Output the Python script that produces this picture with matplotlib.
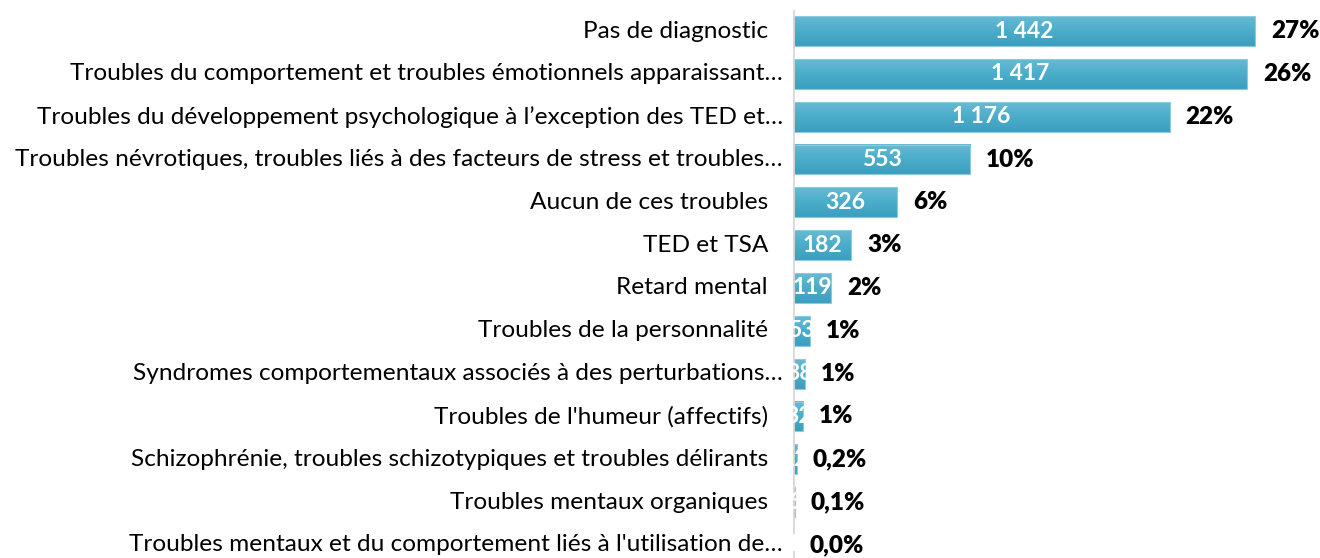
import numpy as np
import matplotlib.pyplot as plt
from matplotlib.colors import LinearSegmentedColormap

categories = [
    "Pas de diagnostic",
    "Troubles du comportement et troubles émotionnels apparaissant…",
    "Troubles du développement psychologique à l’exception des TED et…",
    "Troubles névrotiques, troubles liés à des facteurs de stress et troubles…",
    "Aucun de ces troubles",
    "TED et TSA",
    "Retard mental",
    "Troubles de la personnalité",
    "Syndromes comportementaux associés à des perturbations…",
    "Troubles de l'humeur (affectifs)",
    "Schizophrénie, troubles schizotypiques et troubles délirants",
    "Troubles mentaux organiques",
    "Troubles mentaux et du comportement liés à l'utilisation de…",
]
counts = [1442, 1417, 1176, 553, 326, 182, 119, 53, 38, 32, 12, 6, 1]
count_labels = ["1 442", "1 417", "1 176", "553", "326", "182", "119", "53", "38", "32", "12", "6", "1"]
pct_labels = ["27%", "26%", "22%", "10%", "6%", "3%", "2%", "1%", "1%", "1%", "0,2%", "0,1%", "0,0%"]

plt.rcParams['font.family'] = ['Lato', 'DejaVu Sans']

fig = plt.figure(figsize=(13.2, 5.58), dpi=100)
ax = fig.add_axes([793 / 1320, -8.4 / 558, 527 / 1320, 556.8 / 558])

y = np.arange(len(categories))
bars = ax.barh(y, counts, height=0.7, color="none", edgecolor="#8ACBDF", linewidth=0.8, zorder=3)
ax.axis("off")

# vertical gradient inside bars, like the Excel fill
cmap = LinearSegmentedColormap.from_list("aqua", ["#68BAD3", "#4BADCA", "#3B9EC0"])
grad = np.linspace(0, 1, 64).reshape(-1, 1)
for b in bars:
    x0, y0 = b.get_x(), b.get_y()
    ax.imshow(grad, cmap=cmap, aspect="auto", extent=(x0, x0 + b.get_width(), y0 + b.get_height(), y0),
              interpolation="bilinear", zorder=2)
ax.set_xlim(0, 1645)
ax.set_ylim(len(categories) - 0.5, -0.5)
ax.axvline(0, color="#D9D9D9", linewidth=2, zorder=4)

for i, (b, c, cl, pl, cat) in enumerate(zip(bars, counts, count_labels, pct_labels, categories)):
    w = b.get_width()
    t = ax.text(w / 2, i, cl, ha="center", va="center", color="white",
                fontsize=16.5, fontweight="bold", zorder=5)
    t.set_clip_path(b)
    ax.annotate(pl, (w, i), xytext=(11.5, 0), textcoords="offset points", ha="left", va="center",
                fontsize=17.5, fontweight="heavy", color="black", annotation_clip=False)
    off = -10 if cat.endswith("…") else -25
    ax.annotate(cat, (0, i), xytext=(off * 0.72, 0), textcoords="offset points", ha="right", va="center",
                fontsize=17.6, color="black", annotation_clip=False)

fig.savefig("out.png", dpi=100)
